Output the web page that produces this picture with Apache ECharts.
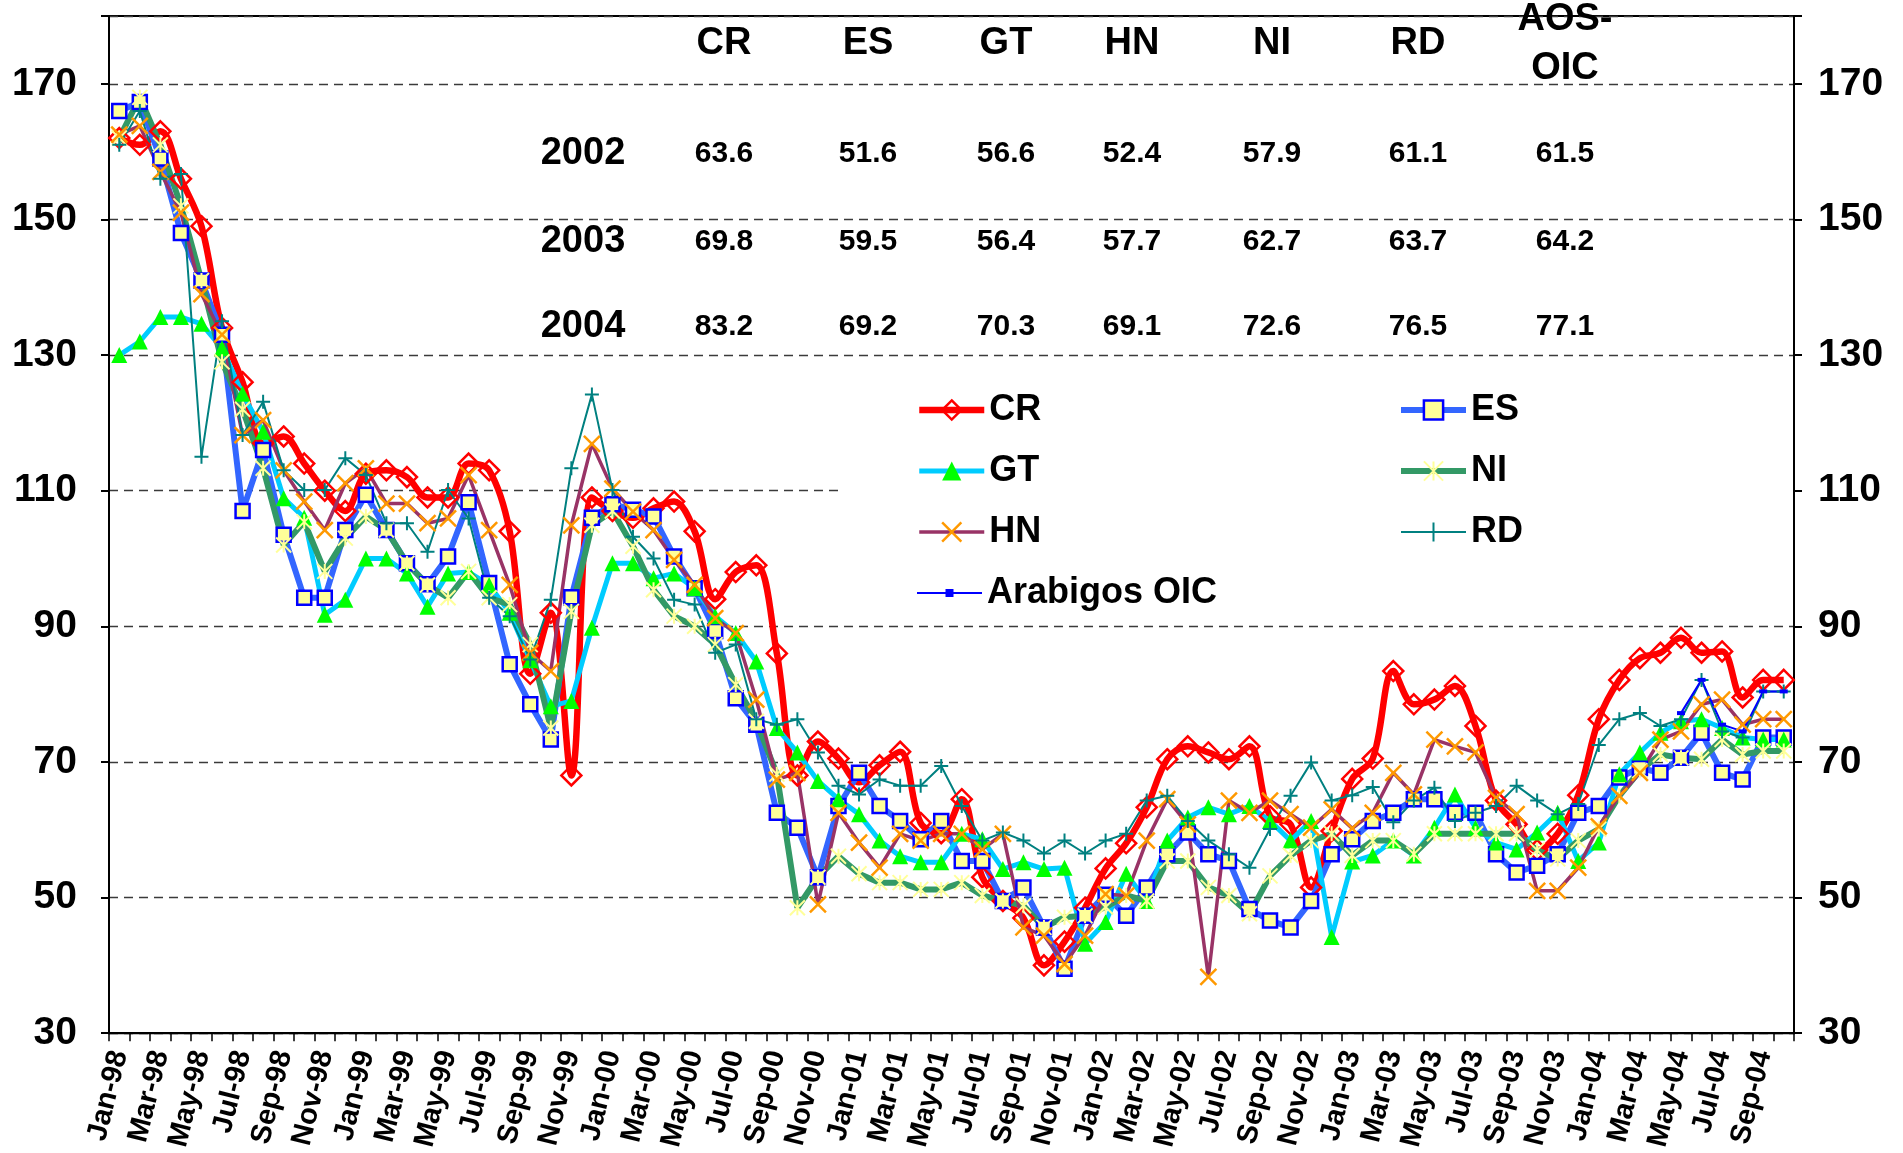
<!DOCTYPE html>
<html><head><meta charset="utf-8">
<script src="https://cdn.jsdelivr.net/npm/echarts@6/dist/echarts.min.js"></script>
<style>html,body{margin:0;padding:0;background:#fff}#c{width:1903px;height:1153px}</style>
</head><body><div id="c"></div>
<script>
const categories = ['Jan-98','Feb-98','Mar-98','Apr-98','May-98','Jun-98','Jul-98','Aug-98','Sep-98','Oct-98','Nov-98','Dec-98',
'Jan-99','Feb-99','Mar-99','Apr-99','May-99','Jun-99','Jul-99','Aug-99','Sep-99','Oct-99','Nov-99','Dec-99',
'Jan-00','Feb-00','Mar-00','Apr-00','May-00','Jun-00','Jul-00','Aug-00','Sep-00','Oct-00','Nov-00','Dec-00',
'Jan-01','Feb-01','Mar-01','Apr-01','May-01','Jun-01','Jul-01','Aug-01','Sep-01','Oct-01','Nov-01','Dec-01',
'Jan-02','Feb-02','Mar-02','Apr-02','May-02','Jun-02','Jul-02','Aug-02','Sep-02','Oct-02','Nov-02','Dec-02',
'Jan-03','Feb-03','Mar-03','Apr-03','May-03','Jun-03','Jul-03','Aug-03','Sep-03','Oct-03','Nov-03','Dec-03',
'Jan-04','Feb-04','Mar-04','Apr-04','May-04','Jun-04','Jul-04','Aug-04','Sep-04','Oct-04'];

const CR = [162,161,163,156,149,134,126,117,118,114,
110,107,112.5,113,112,109,109,114,113,104,
83,92,68,109,107,106,107.4,108.4,104,94,
98,99,86,68,73,70.5,67,69.5,71.5,61,
59.5,64.5,53,49.5,47,40,43.5,48.5,54.3,58,
63.3,70.4,72.3,71.4,70.4,72.3,62,60.8,51.5,59.8,
67.5,70.5,83.4,78.5,79.2,81.2,75.3,64.3,60.8,57,
59.4,65.1,76.3,82.1,85.3,86.1,88.3,86.1,86.3,79.5,
82.1,82.1];
const ES = [166,167.3,159,148,141,133,107,116,103.5,94.2,
94.2,104.2,109.4,104.2,99.3,96.2,100.3,108.3,96.4,84.4,
78.5,73.3,94.3,106,108,107.2,106.2,100.3,95.6,89.3,
79.4,75.5,62.5,60.3,53,63.5,68.4,63.5,61.3,58.6,
61.3,55.4,55.4,49.5,51.5,45.6,39.5,47.3,50.4,47.3,
51.5,56.4,59.6,56.4,55.4,48.3,46.6,45.6,49.5,56.4,
58.6,61.3,62.5,64.5,64.5,62.5,62.5,56.4,53.7,54.7,
56.4,62.5,63.5,67.7,69.1,68.4,70.6,74.3,68.4,67.4,
73.6,73.6];
const GT = [130,132,135.6,135.6,134.6,131,124.3,118.7,108.9,106,
91.7,93.9,100,100,97.8,92.9,97.8,98,96.1,92,
85,78.2,79,89.8,99.3,99.3,97.1,97.8,95.6,91.5,
89,84.8,75,71.4,67.2,64.5,62.3,58.4,56.1,55.2,
55.2,59.4,58.6,54.2,55.2,54.2,54.4,43.2,46.4,53.5,
49.5,58.4,61.8,63.3,62.3,63.5,61.3,58.4,61.3,44.2,
55.3,56.2,58.4,56.2,60.3,65.2,60.3,58.1,57.1,59.6,
62.5,55.4,58.1,68.2,71.4,74.3,76,76.3,75,73.6,
73.3,73.3];
const NI = [162,168,161,152,141,129,122,113.3,102,105.4,
98.1,103,106.2,104.2,99.3,96.1,94.2,98.1,94.2,93.2,
87.3,75,92.2,104.9,107,101.8,95.4,91.5,90,87.3,
81.4,76,68.2,48.5,53,56.1,53.5,52.2,52.2,51.2,
51.2,52.2,50.3,49.5,48.8,45.6,47.1,47.3,48.6,50.3,
49.5,55.4,55.4,51.5,50.3,47.6,53.2,56.2,58.4,59.4,
56.2,58.4,58.4,56.4,59.4,59.4,59.4,59.4,59.4,57,
55.7,58.4,60.1,65,68.7,71.1,70.6,70.4,73.3,71.1,
71.6,71.6];
const HN = [162.5,163.8,157,151,139,133,118.2,120.4,113,108.4,
104.2,111.1,113.3,108.1,108.1,105.2,105.9,112.3,104.2,96.1,
86.1,83.4,104.9,116.9,110.3,106.9,104.2,99.8,96.1,91.2,
89,79.2,67.4,68.4,49,62.5,58.1,54.4,59.4,58.4,
59.4,59.4,57.1,59.4,45.6,44.4,40.2,44.4,50.5,50.3,
58.4,64.5,60.8,38.3,64.3,62.5,64.3,62.3,60.3,63,
60.2,62.5,68.4,65.2,73.3,72.3,71.4,64.7,62.3,51,
51,54.4,60.5,65,68.4,73.3,74.5,78.5,79.2,75.5,
76.3,76.3];
const RD = [161,166,156,156.7,115,135,118.2,123.1,113,110.1,
110.1,114.8,112.3,105.2,105.2,101,110.1,105.9,94.2,91.5,
85.1,93.9,113.3,124.2,110.1,103.2,100,93.9,93.2,86.1,
87.3,76.3,75.5,76.3,71.4,66.5,65.2,67.4,66.5,66.5,
69.4,63.5,58.4,59.6,58.4,56.5,58.4,56.5,58.4,59.4,
64.3,65,61.3,58.4,56.4,54.4,60.1,65,69.9,64.3,
65.1,66.3,61.1,64.3,66.2,61.3,62.5,63.5,66.5,64.3,
62.3,63.8,72.5,76.3,77.2,75.3,76.3,82.1,74.5,73.6,
80.4,80.4];
const AOS = [null,null,null,null,null,null,null,null,null,null,
null,null,null,null,null,null,null,null,null,null,
null,null,null,null,null,null,null,null,null,null,
null,null,null,null,null,null,null,null,null,null,
null,null,null,null,null,null,null,null,null,null,
null,null,null,null,null,null,null,null,null,null,
null,null,null,null,null,null,null,null,null,null,
null,null,null,null,null,null,77.2,82.1,75.5,74.5,
80.4,80.4];

const yTicks = [30,50,70,90,110,130,150,170];
const tableHeaders = ['CR','ES','GT','HN','NI','RD','AOS-\nOIC'];
const tableYears = ['2002','2003','2004'];
const tableRows = [
  [63.6,51.6,56.6,52.4,57.9,61.1,61.5],
  [69.8,59.5,56.4,57.7,62.7,63.7,64.2],
  [83.2,69.2,70.3,69.1,72.6,76.5,77.1]
];

const FONT = '"Liberation Sans", Arial, Helvetica, sans-serif';
const colX = [724, 868, 1006, 1132, 1272, 1418, 1565];
const rowY = [154, 242, 327];

const graphics = [
  {type:'rect', z:1, shape:{x:838, y:372, width:955, height:242}, style:{fill:'#fff'}}
];
tableHeaders.forEach((h, j) => {
  graphics.push({type:'text', z:10, x:colX[j], y:44,
    style:{text:h, fill:'#000', font:'bold 38px ' + FONT, textAlign:'center', textVerticalAlign:'middle', lineHeight:49}});
});
tableYears.forEach((yr, r) => {
  graphics.push({type:'text', z:10, x:583, y:rowY[r],
    style:{text:yr, fill:'#000', font:'bold 38px ' + FONT, textAlign:'center', textVerticalAlign:'middle'}});
  tableRows[r].forEach((v, j) => {
    graphics.push({type:'text', z:10, x:colX[j], y:rowY[r],
      style:{text:v.toFixed(1), fill:'#000', font:'bold 30px ' + FONT, textAlign:'center', textVerticalAlign:'middle'}});
  });
});

const X_PATH = 'path://M0,0 L10,10 M10,0 L0,10';
const PLUS_PATH = 'path://M5,0 L5,10 M0,5 L10,5';
const STAR_PATH = 'path://M5,0 L5,10 M0,0 L10,10 M10,0 L0,10';

function mk(name, data, lineColor, lineWidth, symbol, symbolSize, itemStyle, extra) {
  return Object.assign({
    name, type:'line', data, showAllSymbol:true, symbol, symbolSize,
    lineStyle:{color:lineColor, width:lineWidth},
    itemStyle, emphasis:{disabled:true}, animation:false, connectNulls:false
  }, extra || {});
}

const series = [
  mk('CR', CR, '#FF0000', 6.5, 'diamond', 20, {color:'rgba(255,255,255,0)', borderColor:'#FF0000', borderWidth:2.5}, {smooth:0.35}),
  mk('ES', ES, '#3366FF', 6, 'rect', 14, {color:'#FFFF99', borderColor:'#0000FF', borderWidth:2.5}),
  mk('GT', GT, '#00CCFF', 5, 'triangle', 16, {color:'#00FF00', borderColor:'#00FF00', borderWidth:0}),
  mk('NI', NI, '#339966', 6, STAR_PATH, 15, {color:'rgba(0,0,0,0)', borderColor:'#FFFF99', borderWidth:2}),
  mk('HN', HN, '#993366', 3.5, X_PATH, 16, {color:'rgba(0,0,0,0)', borderColor:'#FF9900', borderWidth:2.5}),
  mk('RD', RD, '#008080', 2, PLUS_PATH, 14, {color:'rgba(0,0,0,0)', borderColor:'#008080', borderWidth:2}),
  mk('Arabigos OIC', AOS, '#0000FF', 2, 'rect', [8,4], {color:'#0000FF', borderWidth:0})
];

const legendText = {fontSize:36, fontWeight:'bold', fontFamily:FONT, color:'#000', lineHeight:36};
const legendBase = {orient:'vertical', padding:0, itemWidth:65, itemHeight:24, itemGap:25,
  selectedMode:false, textStyle:legendText, z:10,
  lineStyle:{width:'inherit'}, itemStyle:{borderWidth:'inherit'}};

const axisLabelY = {fontSize:39, fontWeight:'bold', fontFamily:FONT, color:'#000',
  formatter: v => (yTicks.indexOf(v) >= 0 ? String(v) : '')};

const option = {
  backgroundColor:'#fff',
  animation:false,
  textStyle:{fontFamily:FONT},
  grid:{left:109, right:109, top:16, bottom:117, show:true, borderColor:'#000', borderWidth:2, backgroundColor:'rgba(0,0,0,0)'},
  legend:[
    Object.assign({}, legendBase, {left:916, top:392, data:['CR','GT','HN']}),
    Object.assign({}, legendBase, {left:1398, top:392, data:['ES','NI','RD']}),
    Object.assign({}, legendBase, {left:916, top:575, itemHeight:10, data:['Arabigos OIC']})
  ],
  xAxis:{type:'category', data:categories, boundaryGap:true,
    axisLine:{lineStyle:{color:'#000', width:2}},
    axisTick:{show:true, interval:0, length:8, lineStyle:{color:'#000', width:1.5}},
    axisLabel:{interval:1, rotate:76, fontSize:29, fontWeight:'bold', fontFamily:FONT, color:'#000', margin:18},
    splitLine:{show:false}},
  yAxis:[
    {type:'value', min:30, max:180, interval:20, position:'left',
      axisLine:{show:true, lineStyle:{color:'#000', width:2}},
      axisTick:{show:true, length:8, lineStyle:{color:'#000', width:2}},
      axisLabel:Object.assign({margin:32}, axisLabelY),
      splitLine:{show:true, lineStyle:{color:'#3a3a3a', width:1.3, type:[9,6]}}},
    {type:'value', min:30, max:180, interval:20, position:'right',
      axisLine:{show:true, lineStyle:{color:'#000', width:2}},
      axisTick:{show:true, length:8, lineStyle:{color:'#000', width:2}},
      axisLabel:Object.assign({margin:24}, axisLabelY),
      splitLine:{show:false}}
  ],
  graphic:graphics,
  series
};

const chart = echarts.init(document.getElementById('c'), null, {renderer:'canvas'});
chart.setOption(option);
</script>
</body></html>
